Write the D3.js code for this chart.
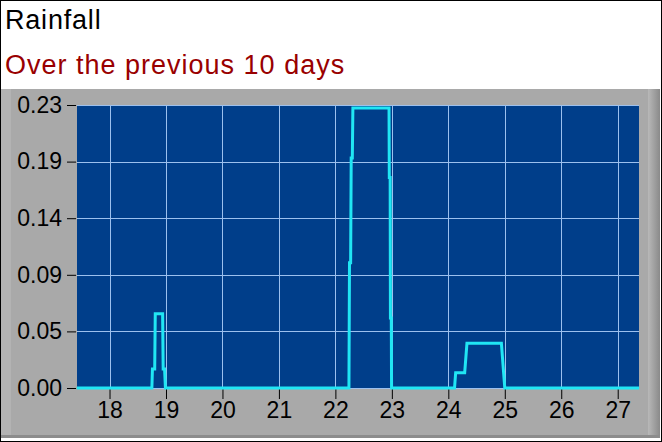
<!DOCTYPE html>
<html>
<head>
<meta charset="utf-8">
<script src="https://cdn.jsdelivr.net/npm/d3@7"></script>
<style>
  body { margin: 0; background: #fff; }
  svg { display: block; font-family: "Liberation Sans", Arial, sans-serif; }
</style>
</head>
<body>
<svg id="chart" width="662" height="442"></svg>
<script>
// rainfall trace (day of month, inches)
const days = [17.42, 18.75, 18.76, 18.8, 18.81, 18.94, 18.95, 18.975, 18.99,
  22.24, 22.25, 22.27, 22.28, 22.3, 22.31, 22.95, 22.955, 22.97, 22.975, 22.99, 22.995,
  24.11, 24.13, 24.29, 24.33, 24.94, 25.0, 27.38];
const rain = [0, 0, 0.0156, 0.0156, 0.061, 0.061, 0.0156, 0.0156, 0,
  0, 0.103, 0.103, 0.189, 0.189, 0.23, 0.23, 0.173, 0.173, 0.0575, 0.0575, 0,
  0, 0.0126, 0.0126, 0.0367, 0.0367, 0, 0];

const xTicks = [18, 19, 20, 21, 22, 23, 24, 25, 26, 27];
const yTicks = [0, 0.0465, 0.093, 0.1395, 0.186, 0.2325];
const yTickLabels = ['0.00', '0.05', '0.09', '0.14', '0.19', '0.23'];

const W = 662, H = 442;
const plot = { left: 77, top: 105, right: 639, bottom: 388 };

const svg = d3.select('#chart');

// frame
svg.append('rect').attr('x', 0).attr('y', 0).attr('width', W).attr('height', H).attr('fill', '#fff');

// grey panel with a bit of bevel
svg.append('rect').attr('x', 1).attr('y', 89).attr('width', 659).attr('height', 349).attr('fill', '#a9a9a9');
svg.append('rect').attr('x', 1).attr('y', 89).attr('width', 10).attr('height', 349).attr('fill', '#b3b3b3');
let grad = svg.append('defs').append('linearGradient').attr('id', 'shade');
grad.append('stop').attr('offset', '0%').attr('stop-color', '#b8b8b8');
grad.append('stop').attr('offset', '100%').attr('stop-color', '#8a8a8a');
svg.append('rect').attr('x', 648).attr('y', 89).attr('width', 12).attr('height', 349).attr('fill', 'url(#shade)');
svg.append('rect').attr('x', 1).attr('y', 435).attr('width', 659).attr('height', 3).attr('fill', '#8c8c8c');

svg.append('rect').attr('x', 0.5).attr('y', 0.5).attr('width', W - 1).attr('height', H - 1)
  .attr('fill', 'none').attr('stroke', '#000');

// titles
svg.append('text').attr('x', 5).attr('y', 29).attr('font-size', 27).attr('letter-spacing', 0.8)
  .attr('fill', '#000').text('Rainfall');
svg.append('text').attr('x', 5).attr('y', 74).attr('font-size', 27).attr('letter-spacing', 1)
  .attr('fill', '#990000').text('Over the previous 10 days');

const x = d3.scaleLinear().domain([17.424, 27.377]).range([plot.left, plot.right]);
const y = d3.scaleLinear().domain([0, 0.2325]).range([plot.bottom, plot.top]);

// plot area
svg.append('rect').attr('x', plot.left).attr('y', plot.top)
  .attr('width', plot.right - plot.left).attr('height', plot.bottom - plot.top)
  .attr('fill', '#003e8a');

// grid
svg.append('g').selectAll('line').data(xTicks).enter().append('line')
  .attr('x1', (d) => Math.round(x(d)) + 0.5).attr('x2', (d) => Math.round(x(d)) + 0.5)
  .attr('y1', plot.top).attr('y2', plot.bottom)
  .attr('stroke', '#9cc0ee').attr('stroke-width', 1);
svg.append('g').selectAll('line').data(yTicks).enter().append('line')
  .attr('x1', plot.left).attr('x2', plot.right)
  .attr('y1', (d) => Math.round(y(d)) + 0.5).attr('y2', (d) => Math.round(y(d)) + 0.5)
  .attr('stroke', '#9cc0ee').attr('stroke-width', 1);

// axes
const xAxis = d3.axisBottom(x).tickValues(xTicks).tickSize(11).tickPadding(3).tickFormat(d3.format('d'));
const gx = svg.append('g').attr('transform', 'translate(0,' + plot.bottom + ')').call(xAxis);
gx.select('.domain').remove();
gx.selectAll('text').attr('font-size', 23).attr('fill', '#000').attr('font-family', '"Liberation Sans", Arial, sans-serif');
gx.selectAll('line').attr('stroke', '#000');

const yAxis = d3.axisLeft(y).tickValues(yTicks).tickSize(9).tickPadding(5)
  .tickFormat((d, i) => yTickLabels[i]);
const gy = svg.append('g').attr('transform', 'translate(' + (plot.left - 1) + ',0)').call(yAxis);
gy.select('.domain').remove();
gy.selectAll('text').attr('font-size', 23).attr('fill', '#000').attr('font-family', '"Liberation Sans", Arial, sans-serif');
gy.selectAll('line').attr('stroke', '#000');

// rainfall trace
const line = d3.line().x((d, i) => x(days[i])).y((d) => y(d));
svg.append('path').datum(rain).attr('d', line)
  .attr('fill', 'none').attr('stroke', '#20e6f4').attr('stroke-width', 3)
  .attr('stroke-linejoin', 'miter');
</script>
</body>
</html>
